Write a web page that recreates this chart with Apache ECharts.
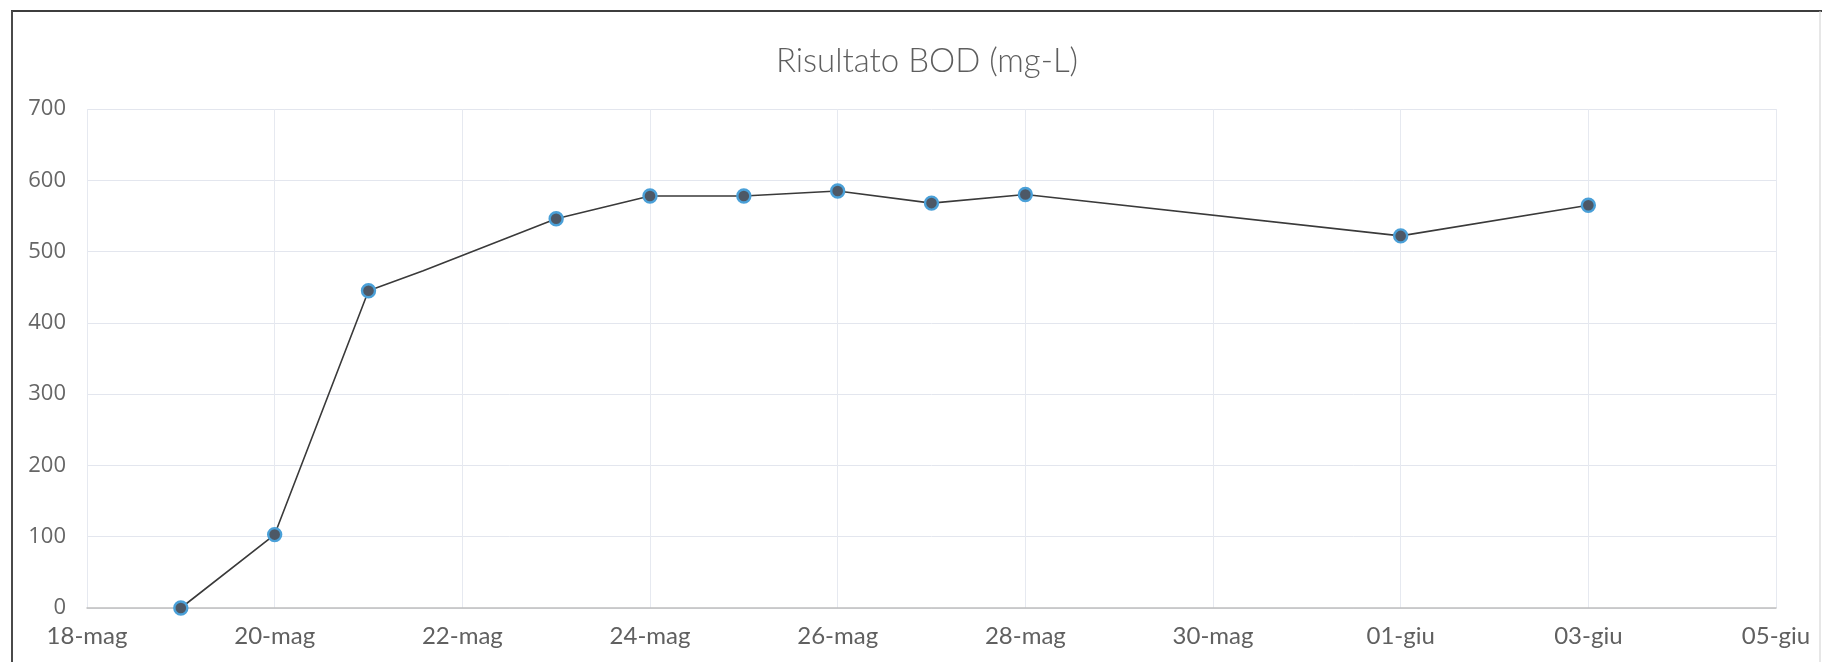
<!DOCTYPE html>
<html>
<head>
<meta charset="utf-8">
<script src="https://cdn.jsdelivr.net/npm/echarts@6/dist/echarts.min.js"></script>
<style>
html,body{margin:0;padding:0;background:#fff;}
#chart{width:1822px;height:662px;}
</style>
</head>
<body>
<div id="chart"></div>
<script>
// ---- data ----
const titleText = 'Risultato BOD (mg-L)';
const axisStart = '2023-05-18 00:00';
const sampleDates = ['2023-05-19 00:00','2023-05-20 00:00','2023-05-21 00:00','2023-05-21 14:00','2023-05-23 00:00','2023-05-24 00:00','2023-05-25 00:00','2023-05-26 00:00','2023-05-27 00:00','2023-05-28 00:00','2023-06-01 00:00','2023-06-03 00:00'];
const bodValues  = [0, 103, 445, 473, 546, 578, 578, 585, 568, 580, 522, 565];
const markerShown = [true, true, true, false, true, true, true, true, true, true, true, true];
const xTickLabels = ['18-mag','20-mag','22-mag','24-mag','26-mag','28-mag','30-mag','01-giu','03-giu','05-giu'];
const yTicks = [0, 100, 200, 300, 400, 500, 600, 700];

function toUTC(s){
  const [d,t] = s.split(' ');
  const [y,m,dd] = d.split('-').map(Number);
  const [h,mi] = t.split(':').map(Number);
  return Date.UTC(y, m-1, dd, h, mi);
}
const DAY = 86400000;
const t0 = toUTC(axisStart);
const seriesData = sampleDates.map((d,i) => ({
  value: [(toUTC(d) - t0) / DAY, bodValues[i]],
  symbol: markerShown[i] ? 'circle' : 'none'
}));

const chart = echarts.init(document.getElementById('chart'), null, {renderer:'canvas'});
chart.setOption({
  backgroundColor: '#ffffff',
  animation: false,
  title: {
    text: titleText,
    left: 922,
    top: 40,
    textAlign: 'center',
    textStyle: {fontFamily: 'Lato', fontWeight: 300, fontSize: 33, color: '#5e5e5e'}
  },
  graphic: [
    {type:'line', shape:{x1:11, y1:11, x2:1822, y2:11}, style:{stroke:'#3d3d3d', lineWidth:2}, silent:true},
    {type:'line', shape:{x1:12, y1:11, x2:12, y2:662}, style:{stroke:'#4a4a4a', lineWidth:2}, silent:true},
    {type:'line', shape:{x1:1820, y1:11, x2:1820, y2:662}, style:{stroke:'#cfcfcf', lineWidth:1}, silent:true}
  ],
  grid: {left: 87, right: 46, top: 109, bottom: 54, containLabel: false},
  xAxis: {
    type: 'value',
    min: 0, max: (xTickLabels.length - 1) * 2, interval: 2,
    axisLine: {show: true, lineStyle: {color: '#bfbfbf', width: 1.5}},
    axisTick: {show: false},
    splitLine: {show: true, lineStyle: {color: '#e6e9f0', width: 1}},
    axisLabel: {
      formatter: v => xTickLabels[Math.round(v/2)] || '',
      fontFamily: 'Lato', fontSize: 24, color: '#606060', margin: 16
    }
  },
  yAxis: {
    type: 'value',
    min: yTicks[0], max: yTicks[yTicks.length-1], interval: yTicks[1]-yTicks[0],
    axisLine: {show: false},
    axisTick: {show: false},
    splitLine: {show: true, lineStyle: {color: '#e3e6ee', width: 1}},
    axisLabel: {fontFamily: 'Open Sans', fontSize: 22, color: '#666666', margin: 21}
  },
  series: [{
    type: 'line',
    data: seriesData,
    symbolSize: 13,
    lineStyle: {color: '#3a3a3a', width: 1.6},
    itemStyle: {color: '#4d5866', borderColor: '#4aa0d8', borderWidth: 2.4},
    z: 3
  }]
});
</script>
</body>
</html>
